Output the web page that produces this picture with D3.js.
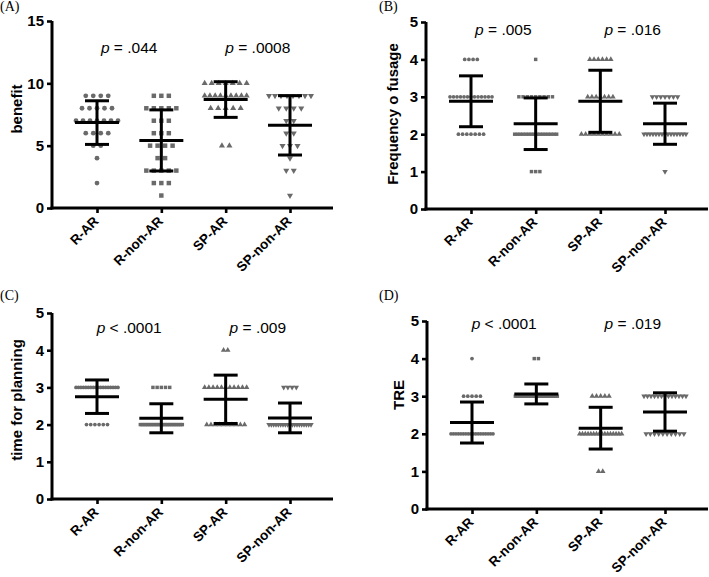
<!DOCTYPE html>
<html>
<head>
<meta charset="utf-8">
<script src="https://cdn.jsdelivr.net/npm/d3@7"></script>
<style>
html,body{margin:0;padding:0;background:#fff;}
svg{display:block;}
</style>
</head>
<body>
<svg id="chart" width="709" height="577"></svg>
<script>
// ---------- DATA ----------
const categories = ["R-AR", "R-non-AR", "SP-AR", "SP-non-AR"];
const panelLabels = ["(A)", "(B)", "(C)", "(D)"];
const yTitles = ["benefit", "Frequency o fusage", "time for planning", "TRE"];
const yMaxes = [15, 5, 5, 5];
const yTicksA = [0, 5, 10, 15];
const yTicksBCD = [0, 1, 2, 3, 4, 5];

// value/count pairs per group (individual responses)
const benefitCounts = [
  [[9,4],[8,5],[7,7],[6,4],[5,2],[4,1],[2,1]],
  [[9,3],[8,5],[7,3],[6,3],[5,4],[4,2],[3,5],[2,3],[1,1]],
  [[10,7],[9,9],[8,5],[5,2]],
  [[9,8],[8,4],[7,2],[6,2],[5,3],[4,1],[3,2],[1,1]]
];
const frequencyCounts = [
  [[4,4],[3,13],[2,7]],
  [[4,1],[3,9],[2,16],[1,3]],
  [[4,6],[3,7],[2,10]],
  [[3,7],[2,15],[1,1]]
];
const planningCounts = [
  [[3,18],[2,6]],
  [[3,5],[2,24]],
  [[4,2],[3,11],[2,10]],
  [[3,4],[2,19]]
];
const treCounts = [
  [[4,1],[3,5],[2,18]],
  [[4,2],[3,27]],
  [[3,5],[2,16],[1,2]],
  [[3,13],[2,10]]
];

// means and standard deviations (error bars)
const benefitMean = [6.85, 5.42, 8.70, 6.63];
const benefitSD   = [1.75, 2.45, 1.43, 2.38];
const frequencyMean = [2.88, 2.28, 2.88, 2.28];
const frequencySD   = [0.68, 0.69, 0.83, 0.55];
const planningMean = [2.75, 2.17, 2.68, 2.18];
const planningSD   = [0.45, 0.39, 0.65, 0.40];
const treMean = [2.30, 3.06, 2.15, 2.58];
const treSD   = [0.545, 0.265, 0.555, 0.51];

// p-value annotations
const pTexts = [
  ["= .044", "= .0008"],
  ["= .005", "= .016"],
  ["< .0001", "= .009"],
  ["< .0001", "= .019"]
];
const pYValues = [12.9, 4.8, 4.62, 4.95];

// ---------- LAYOUT ----------
const panels = [
  {left: 52,  right: 333, top: 21,  bottom: 208, counts: benefitCounts,   mean: benefitMean,   sd: benefitSD,   ticks: yTicksA,   big: true,
   letterX: 0, letterY: 11, titleX: 16, titleY: 109},
  {left: 426, right: 708, top: 22,  bottom: 209, counts: frequencyCounts, mean: frequencyMean, sd: frequencySD, ticks: yTicksBCD, big: false,
   letterX: 379, letterY: 11, titleX: 392, titleY: 114},
  {left: 52,  right: 333, top: 313, bottom: 499, counts: planningCounts,  mean: planningMean,  sd: planningSD,  ticks: yTicksBCD, big: false,
   letterX: 0, letterY: 300, titleX: 16, titleY: 400},
  {left: 427, right: 708, top: 321, bottom: 509, counts: treCounts,       mean: treMean,       sd: treSD,       ticks: yTicksBCD, big: false,
   letterX: 379, letterY: 300, titleX: 398, titleY: 395}
];

const svg = d3.select("#chart");
const pointColor = "#6a6a6a";
const fontSans = "'Liberation Sans', Arial, sans-serif";
const downTriangle = {
  draw(context, size) {
    const y = -Math.sqrt(size / (3 * Math.sqrt(3)));
    context.moveTo(0, -y * 2);
    context.lineTo(-Math.sqrt(3) * y, y);
    context.lineTo(Math.sqrt(3) * y, y);
    context.closePath();
  }
};
const symbolTypes = [d3.symbolCircle, d3.symbolSquare, d3.symbolTriangle, downTriangle];

panels.forEach((p, pi) => {
  const g = svg.append("g");
  const x = d3.scalePoint().domain(categories).range([p.left + 45, p.right - 43]);
  const y = d3.scaleLinear().domain([0, yMaxes[pi]]).range([p.bottom, p.top]);

  const spacing = p.big ? 7.5 : 4.2;
  const maxW = 42;
  const symSizes = p.big ? [18, 20, 16, 16] : [11, 12, 13, 13];

  // points
  categories.forEach((cat, ci) => {
    const pts = [];
    p.counts[ci].forEach(([v, n]) => {
      const sp = n > 1 ? Math.min(spacing, maxW / (n - 1)) : 0;
      for (let i = 0; i < n; i++) pts.push({v, dx: (i - (n - 1) / 2) * sp});
    });
    g.selectAll(null).data(pts).enter().append("path")
      .attr("d", d3.symbol().type(symbolTypes[ci]).size(symSizes[ci]))
      .attr("transform", d => `translate(${x(cat) + d.dx},${y(d.v)})`)
      .attr("fill", pointColor);
  });

  // error bars (mean ± SD)
  const meanHalf = 22, capHalf = 12;
  categories.forEach((cat, ci) => {
    const cx = x(cat), m = p.mean[ci], s = p.sd[ci];
    const eg = g.append("g").attr("stroke", "#000").attr("stroke-width", 3).attr("fill", "none");
    eg.append("line").attr("x1", cx).attr("x2", cx).attr("y1", y(m + s)).attr("y2", y(m - s));
    eg.append("line").attr("x1", cx - capHalf).attr("x2", cx + capHalf).attr("y1", y(m + s)).attr("y2", y(m + s));
    eg.append("line").attr("x1", cx - capHalf).attr("x2", cx + capHalf).attr("y1", y(m - s)).attr("y2", y(m - s));
    eg.append("line").attr("x1", cx - meanHalf).attr("x2", cx + meanHalf).attr("y1", y(m)).attr("y2", y(m));
  });

  // y axis
  const yAxis = d3.axisLeft(y).tickValues(p.ticks).tickFormat(d3.format("d")).tickSize(5).tickPadding(3);
  const ya = g.append("g").attr("transform", `translate(${p.left},0)`).call(yAxis);
  ya.select(".domain").attr("stroke", "#000").attr("stroke-width", 3)
    .attr("d", `M0,${p.bottom + 1.5}V${p.top}`);
  ya.selectAll(".tick line").attr("stroke", "#000").attr("stroke-width", 2.6);
  ya.selectAll(".tick text").attr("font-family", fontSans).attr("font-weight", "bold")
    .attr("font-size", 15).attr("fill", "#000");

  // x axis
  const xAxis = d3.axisBottom(x).tickSize(5).tickPadding(4);
  const xa = g.append("g").attr("transform", `translate(0,${p.bottom})`).call(xAxis);
  xa.select(".domain").attr("stroke", "#000").attr("stroke-width", 3)
    .attr("d", `M${p.left - 1.5},0H${p.right}`);
  xa.selectAll(".tick line").attr("stroke", "#000").attr("stroke-width", 2.6);
  xa.selectAll(".tick text").attr("font-family", fontSans).attr("font-weight", "bold")
    .attr("font-size", 13.5).attr("fill", "#000")
    .attr("text-anchor", "end").attr("dy", null).attr("y", 0)
    .attr("transform", "translate(2,14) rotate(-45)");

  // y title
  g.append("text")
    .attr("transform", `translate(${p.titleX},${p.titleY}) rotate(-90)`)
    .attr("text-anchor", "middle").attr("dominant-baseline", "central")
    .attr("font-family", fontSans).attr("font-weight", "bold").attr("font-size", 15)
    .text(yTitles[pi]);

  // panel letter
  g.append("text").attr("x", p.letterX).attr("y", p.letterY)
    .attr("font-family", "'Liberation Serif', 'Times New Roman', serif").attr("font-size", 14)
    .text(panelLabels[pi]);

  // p-values
  [[0, 1], [2, 3]].forEach((pair, k) => {
    const cx = (x(categories[pair[0]]) + x(categories[pair[1]])) / 2;
    const t = g.append("text").attr("x", cx).attr("y", y(pYValues[pi]))
      .attr("text-anchor", "middle").attr("dominant-baseline", "central")
      .attr("font-family", fontSans).attr("font-size", 15.5);
    t.append("tspan").attr("font-style", "italic").text("p");
    t.append("tspan").text(" " + pTexts[pi][k]);
  });
});
</script>
</body>
</html>
